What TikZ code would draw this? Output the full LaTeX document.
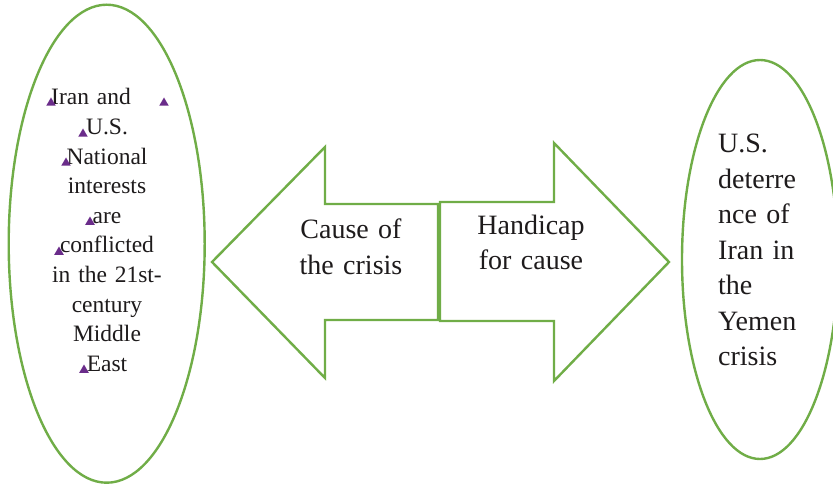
\documentclass[tikz,border=0pt]{standalone}
\usepackage{fontspec}
\setmainfont{Liberation Serif}
\usetikzlibrary{shapes.geometric}
\definecolor{lgreen}{HTML}{70AD47}
\definecolor{tpurple}{HTML}{6A2C8A}
\definecolor{txt}{HTML}{1E1B1C}
\tikzset{
  oval/.style={draw=lgreen, line width=2.4pt, ellipse, inner sep=0pt, fill=white},
  bigarrow/.style={draw=lgreen, line width=2.4pt, fill=white},
  tri/.style={regular polygon, regular polygon sides=3, minimum size=11pt, inner sep=0pt, fill=tpurple},
  lbl/.style={text=txt, inner sep=0pt}
}
\begin{document}
\begin{tikzpicture}[x=1pt,y=-1pt]
\useasboundingbox (0,0) rectangle (833,484);
\clip (0,0) rectangle (833,484);
% ellipses
\node[oval, minimum width=196pt, minimum height=478pt] (L) at (106.7,243.7) {};
\node[oval, minimum width=156pt, minimum height=399pt] (R) at (760,259.5) {};
% arrows
\draw[bigarrow] (438,204) coordinate (la1) -- (325,204) -- (325,147) -- (212,262) coordinate (ltip) -- (325,378) -- (325,320) -- (438,320) -- cycle;
\draw[bigarrow] (440,202) coordinate (ra1) -- (554,202) -- (554,143) -- (669,262) coordinate (rtip) -- (554,381) -- (554,321) -- (440,321) -- cycle;
% texts
\node[lbl, anchor=base, text width=150pt, align=center, font=\fontsize{23.5}{29.6}\selectfont] (ltext) at (107,105)
  {Iran and\hbox to 32pt{\hfil}\\U.S.\\National\\interests\\are\\conflicted\\in the 21st-\\century\\Middle\\East};
\node[lbl, anchor=base west, text width=110pt, align=left, font=\fontsize{28}{35.5}\selectfont] (rtext) at (718,153)
  {U.S.\\deterre\\nce of\\Iran in\\the\\Yemen\\crisis};
\node[lbl, anchor=base, text width=160pt, align=center, font=\fontsize{28}{36}\selectfont] (cause) at (351,238)
  {Cause of\\the crisis};
\node[lbl, anchor=base, text width=160pt, align=center, font=\fontsize{28}{35}\selectfont] (handicap) at (531,234)
  {Handicap\\for cause};
% purple markers
\node[tri] (t1) at (51,103) {};
\node[tri] (t2) at (164,103) {};
\node[tri] (t3) at (83,134) {};
\node[tri] (t4) at (66,163) {};
\node[tri] (t5) at (90,222) {};
\node[tri] (t6) at (59,252) {};
\node[tri] (t7) at (84,370) {};
\end{tikzpicture}
\end{document}
